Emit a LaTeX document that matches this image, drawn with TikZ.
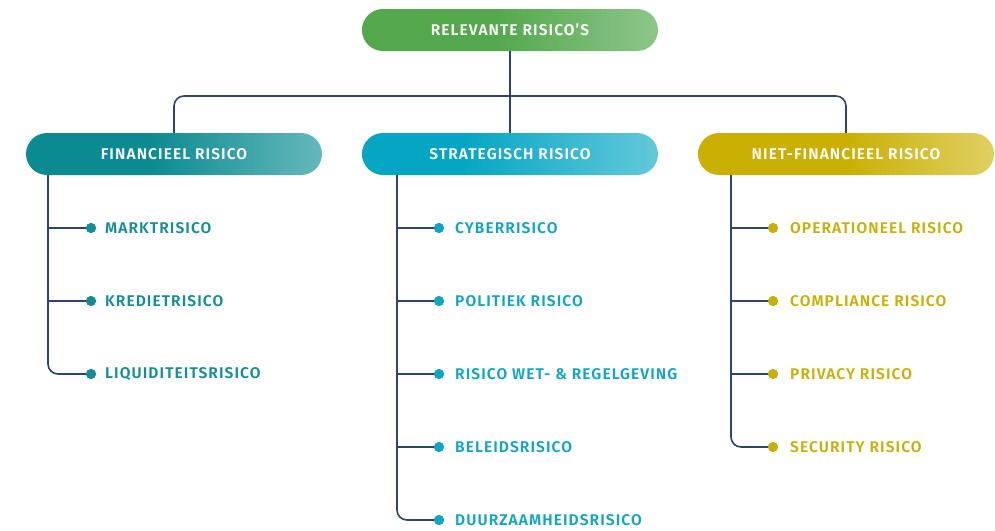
\documentclass[tikz,border=0pt]{standalone}
\usepackage{fontspec}
\setmainfont{Fira Sans SemiBold}[LetterSpace=7]
\definecolor{gA}{HTML}{52A84B}\definecolor{gB}{HTML}{8DC689}
\definecolor{tA}{HTML}{0B8B91}\definecolor{tB}{HTML}{65B8BB}
\definecolor{cA}{HTML}{05A6C3}\definecolor{cB}{HTML}{63C9DA}
\definecolor{yA}{HTML}{C9B003}\definecolor{yB}{HTML}{E0D063}
\definecolor{tT}{HTML}{138E94}\definecolor{cT}{HTML}{0EA6C3}\definecolor{yT}{HTML}{C9B006}
\definecolor{navy}{HTML}{2E4470}
\pgfdeclarehorizontalshading{gshade}{100bp}{color(0bp)=(gA); color(47bp)=(gA); color(75bp)=(gB); color(100bp)=(gB)}
\pgfdeclarehorizontalshading{tshade}{100bp}{color(0bp)=(tA); color(46bp)=(tA); color(75bp)=(tB); color(100bp)=(tB)}
\pgfdeclarehorizontalshading{cshade}{100bp}{color(0bp)=(cA); color(42bp)=(cA); color(75bp)=(cB); color(100bp)=(cB)}
\pgfdeclarehorizontalshading{yshade}{100bp}{color(0bp)=(yA); color(50bp)=(yA); color(75bp)=(yB); color(100bp)=(yB)}
\tikzset{
  hbox/.style={minimum width=296pt, minimum height=42pt, rounded corners=21pt, text=white, font=\fontsize{15.5}{17}\selectfont, inner sep=0pt},
  conn/.style={draw=navy, line width=1.6pt, rounded corners=10pt},
  item/.style={anchor=west, font=\fontsize{15.5}{17}\selectfont, inner sep=0pt},
  dotn/.style={circle, inner sep=0pt, minimum size=10pt}
}
\begin{document}
\begin{tikzpicture}[x=1pt,y=-1pt]
\useasboundingbox (0,0) rectangle (995,530);
% headers
\node[hbox, shading=gshade] (top) at (510,30) {RELEVANTE RISICO’S};
\node[hbox, shading=tshade] (fin) at (174,154) {FINANCIEEL RISICO};
\node[hbox, shading=cshade] (str) at (510,154) {STRATEGISCH RISICO};
\node[hbox, shading=yshade] (nf) at (846,154) {NIET-FINANCIEEL RISICO};
% top connectors
\coordinate (hl) at (174,96);
\coordinate (hr) at (846,96);
\draw[conn] (top.south) -- (str.north);
\draw[conn] (fin.north) -- (hl) -- (hr) -- (nf.north);
% items
\foreach \name/\vx/\dx/\tx/\col/\list in {
  F/48/91/105/tT/{MARKTRISICO,KREDIETRISICO,LIQUIDITEITSRISICO},
  S/397/439/455/cT/{CYBERRISICO,POLITIEK RISICO,RISICO WET- \& REGELGEVING,BELEIDSRISICO,DUURZAAMHEIDSRISICO},
  N/731/773/790/yT/{OPERATIONEEL RISICO,COMPLIANCE RISICO,PRIVACY RISICO,SECURITY RISICO}}{
  \foreach \t [count=\i] in \list {
    \pgfmathsetmacro{\yy}{228+73*(\i-1)}
    \node[dotn, fill=\col] (\name d\i) at (\dx,\yy) {};
    \node[item, text=\col] (\name t\i) at (\tx,\yy) {\t};
    \coordinate (\name c\i) at (\vx,\yy);
  }
}
% vertical trunks
\draw[conn] (fin.south -| 48,0) -- (Fc3) -- (Fd3.center);
\draw[conn] (Fc1) -- (Fd1.center);
\draw[conn] (Fc2) -- (Fd2.center);
\draw[conn] (str.south -| 397,0) -- (Sc5) -- (Sd5.center);
\draw[conn] (Sc1) -- (Sd1.center);
\draw[conn] (Sc2) -- (Sd2.center);
\draw[conn] (Sc3) -- (Sd3.center);
\draw[conn] (Sc4) -- (Sd4.center);
\draw[conn] (nf.south -| 731,0) -- (Nc4) -- (Nd4.center);
\draw[conn] (Nc1) -- (Nd1.center);
\draw[conn] (Nc2) -- (Nd2.center);
\draw[conn] (Nc3) -- (Nd3.center);
% redraw dots over lines
\foreach \n/\c in {Fd1/tT,Fd2/tT,Fd3/tT,Sd1/cT,Sd2/cT,Sd3/cT,Sd4/cT,Sd5/cT,Nd1/yT,Nd2/yT,Nd3/yT,Nd4/yT}
  \fill[\c] (\n) circle (5pt);
\end{tikzpicture}
\end{document}
